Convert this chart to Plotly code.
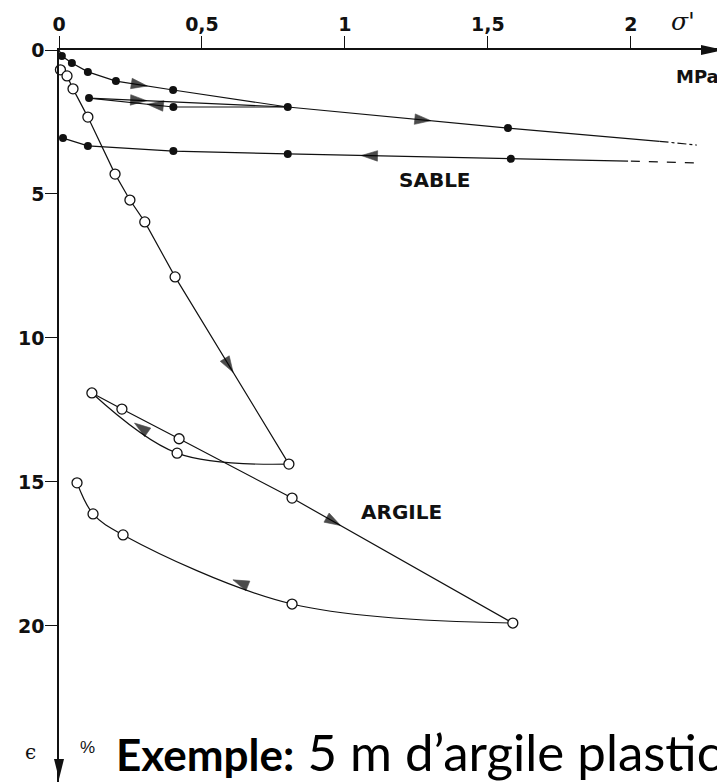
import plotly.graph_objects as go

# ---------------- axis ticks ----------------
x_tickvals = [0, 0.5, 1, 1.5, 2]
x_ticktext = ["0", "0,5", "1", "1,5", "2"]
y_tickvals = [0, 5, 10, 15, 20]
y_ticktext = ["0", "5", "10", "15", "20"]

# ---------------- SABLE (sand), filled dots ----------------
sand_load_sigma = [0.0, 0.010, 0.045, 0.101, 0.199, 0.399, 0.80]
sand_load_eps = [0.0, 0.21, 0.45, 0.76, 1.08, 1.39, 1.98]
sand_unload1_sigma = [0.80, 0.40, 0.105]
sand_unload1_eps = [1.98, 1.98, 1.67]
sand_reload_sigma = [0.105, 0.80, 1.57, 2.10]
sand_reload_eps = [1.67, 1.98, 2.71, 3.17]
sand_reload_ext_sigma = [2.10, 2.23]
sand_reload_ext_eps = [3.17, 3.30]
sand_unload2_ext_sigma = [2.22, 1.99]
sand_unload2_ext_eps = [3.92, 3.86]
sand_unload2_sigma = [1.99, 1.58, 0.80, 0.40, 0.101, 0.014]
sand_unload2_eps = [3.86, 3.78, 3.61, 3.51, 3.33, 3.06]
# measured points (dots)
sand_pts_sigma = [0.010, 0.045, 0.101, 0.199, 0.399, 0.80, 0.40, 0.105, 1.57,
                  1.58, 0.80, 0.40, 0.101, 0.014]
sand_pts_eps = [0.21, 0.45, 0.76, 1.08, 1.39, 1.98, 1.98, 1.67, 2.71,
                3.78, 3.61, 3.51, 3.33, 3.06]

# ---------------- ARGILE (clay), open circles ----------------
clay_load_sigma = [0.005, 0.028, 0.049, 0.101, 0.196, 0.248, 0.300, 0.406, 0.804]
clay_load_eps = [0.69, 0.90, 1.35, 2.33, 4.31, 5.21, 5.97, 7.88, 14.38]
clay_unload1_sigma = [0.804, 0.413, 0.115]
clay_unload1_eps = [14.38, 14.00, 11.91]
clay_reload_sigma = [0.115, 0.22, 0.42, 0.815, 1.587]
clay_reload_eps = [11.91, 12.47, 13.50, 15.56, 19.90]
clay_unload2_sigma = [1.587, 0.815, 0.224, 0.119, 0.063]
clay_unload2_eps = [19.90, 19.24, 16.84, 16.11, 15.03]

# ---------------- layout geometry ----------------
# page body has an 8px margin; the figure is sized so the plot area sits
# at page pixels x 59..725, y 50..782
W, H = 717, 774
ML, MT = 51, 42
X_RANGE = [0, 2.329]
Y_RANGE = [25.42, 0]

INK = "#111111"
fig = go.Figure()


def line(xs, ys, shape="linear", dash="solid", width=1.2):
    fig.add_trace(go.Scatter(x=xs, y=ys, mode="lines", hoverinfo="skip",
                             line=dict(color=INK, width=width, shape=shape,
                                       dash=dash, smoothing=1.0)))


# sand lines
line(sand_load_sigma, sand_load_eps)
line(sand_unload1_sigma, sand_unload1_eps)
line(sand_reload_sigma, sand_reload_eps)
line(sand_reload_ext_sigma, sand_reload_ext_eps, dash="dashdot")
line(sand_unload2_sigma, sand_unload2_eps)
line(sand_unload2_ext_sigma, sand_unload2_ext_eps, dash="dash")

# clay lines
line(clay_load_sigma, clay_load_eps)
line(clay_unload1_sigma, clay_unload1_eps, shape="spline")
line(clay_reload_sigma, clay_reload_eps)
line(clay_unload2_sigma, clay_unload2_eps, shape="spline")

# ---------------- direction arrows on the curves ----------------
# (x list, y list, segment index, fraction along segment)
arrow_specs = [
    (sand_load_sigma, sand_load_eps, 4, 0.55),
    (sand_reload_sigma, sand_reload_eps, 1, 0.65),
    (sand_reload_sigma, sand_reload_eps, 0, 0.29),
    (sand_unload1_sigma, sand_unload1_eps, 1, 0.31),
    (sand_unload2_sigma, sand_unload2_eps, 1, 0.67),
    (clay_load_sigma, clay_load_eps, 7, 0.51),
    (clay_unload1_sigma, clay_unload1_eps, 1, 0.50),
    (clay_reload_sigma, clay_reload_eps, 3, 0.22),
    (clay_unload2_sigma, clay_unload2_eps, 1, 0.35),
]
ax_x, ax_y, ax_s = [], [], []
for xs, ys, i, f in arrow_specs:
    x0, y0, x1, y1 = xs[i], ys[i], xs[i + 1], ys[i + 1]
    ft = f - 0.05
    ax_x += [x0 + ft * (x1 - x0), x0 + f * (x1 - x0)]
    ax_y += [y0 + ft * (y1 - y0), y0 + f * (y1 - y0)]
    ax_s += [0, 17]
fig.add_trace(go.Scatter(x=ax_x, y=ax_y, mode="markers", hoverinfo="skip",
                         marker=dict(symbol="arrow", angleref="previous",
                                     size=ax_s, color="black",
                                     line=dict(width=0.6, color="black"))))

# markers
fig.add_trace(go.Scatter(x=sand_pts_sigma, y=sand_pts_eps, mode="markers",
                         hoverinfo="skip", cliponaxis=False,
                         marker=dict(symbol="circle", size=8, color=INK)))
clay_pts_sigma = clay_load_sigma + clay_unload1_sigma[1:] + clay_reload_sigma[1:] + clay_unload2_sigma[1:]
clay_pts_eps = clay_load_eps + clay_unload1_eps[1:] + clay_reload_eps[1:] + clay_unload2_eps[1:]
fig.add_trace(go.Scatter(x=clay_pts_sigma, y=clay_pts_eps, mode="markers",
                         hoverinfo="skip", cliponaxis=False,
                         marker=dict(symbol="circle", size=10, color="white",
                                     line=dict(color=INK, width=1.3))))

# ---------------- axis arrowheads (paper refs so they are not clipped) ----------------
fig.add_shape(type="path", xref="paper", yref="paper", xsizemode="pixel", ysizemode="pixel",
              xanchor=1, yanchor=1, path="M-1,0 L-24,5 L-24,-5 Z",
              fillcolor=INK, line=dict(width=0))
fig.add_shape(type="path", xref="paper", yref="paper", xsizemode="pixel", ysizemode="pixel",
              xanchor=0, yanchor=0, path="M0,3 L-5,23 L5,23 Z",
              fillcolor=INK, line=dict(width=0))


def px(x_page):
    return (x_page - 59) / 666


def py(y_page):
    return (782 - y_page) / 732


def note(x, y, text, font):
    fig.add_annotation(x=px(x), y=py(y), xref="paper", yref="paper",
                       xanchor="center", yanchor="middle",
                       text=text, showarrow=False, font=font)


# ---------------- labels ----------------
lab_font = dict(family="DejaVu Sans", size=20, color=INK, weight="bold")
fig.add_annotation(x=1.315, y=4.51, xref="x", yref="y", text="SABLE",
                   showarrow=False, font=lab_font)
fig.add_annotation(x=1.196, y=16.04, xref="x", yref="y", text="ARGILE",
                   showarrow=False, font=lab_font)
note(697, 77, "MPa", dict(family="DejaVu Sans", size=18, color=INK, weight="bold"))
note(683, 22, "<i>σ'</i>", dict(family="DejaVu Serif", size=25, color=INK))
note(30, 752, "ϵ", dict(family="DejaVu Serif", size=20, color=INK))
note(87, 747, "%", dict(family="Liberation Sans", size=17, color=INK))

fig.add_annotation(x=px(114), y=py(751), xref="paper", yref="paper",
                   xanchor="left", yanchor="middle",
                   text="<b>Exemple:</b><span style='font-size:51px'> 5 m d’argile plastic</span>",
                   showarrow=False, font=dict(family="Lato", size=44, color="black"))

tick_font = dict(family="DejaVu Sans", size=19, color=INK, weight="bold")
fig.update_layout(
    width=W, height=H, margin=dict(l=ML, t=MT, r=0, b=0, pad=0),
    paper_bgcolor="white", plot_bgcolor="white", showlegend=False,
    xaxis=dict(side="top", range=X_RANGE, showgrid=False, zeroline=False,
               showline=True, linecolor=INK, linewidth=1.6,
               ticks="outside", ticklen=12, tickwidth=1.4, tickcolor=INK,
               tickvals=x_tickvals, ticktext=x_ticktext, tickfont=tick_font,
               ticklabelstandoff=-2),
    yaxis=dict(range=Y_RANGE, showgrid=False, zeroline=False,
               showline=True, linecolor=INK, linewidth=1.6,
               ticks="outside", ticklen=12, tickwidth=1.4, tickcolor=INK,
               tickvals=y_tickvals, ticktext=y_ticktext, tickfont=tick_font,
               ticklabelstandoff=-3),
)

fig.write_html("out.html")
